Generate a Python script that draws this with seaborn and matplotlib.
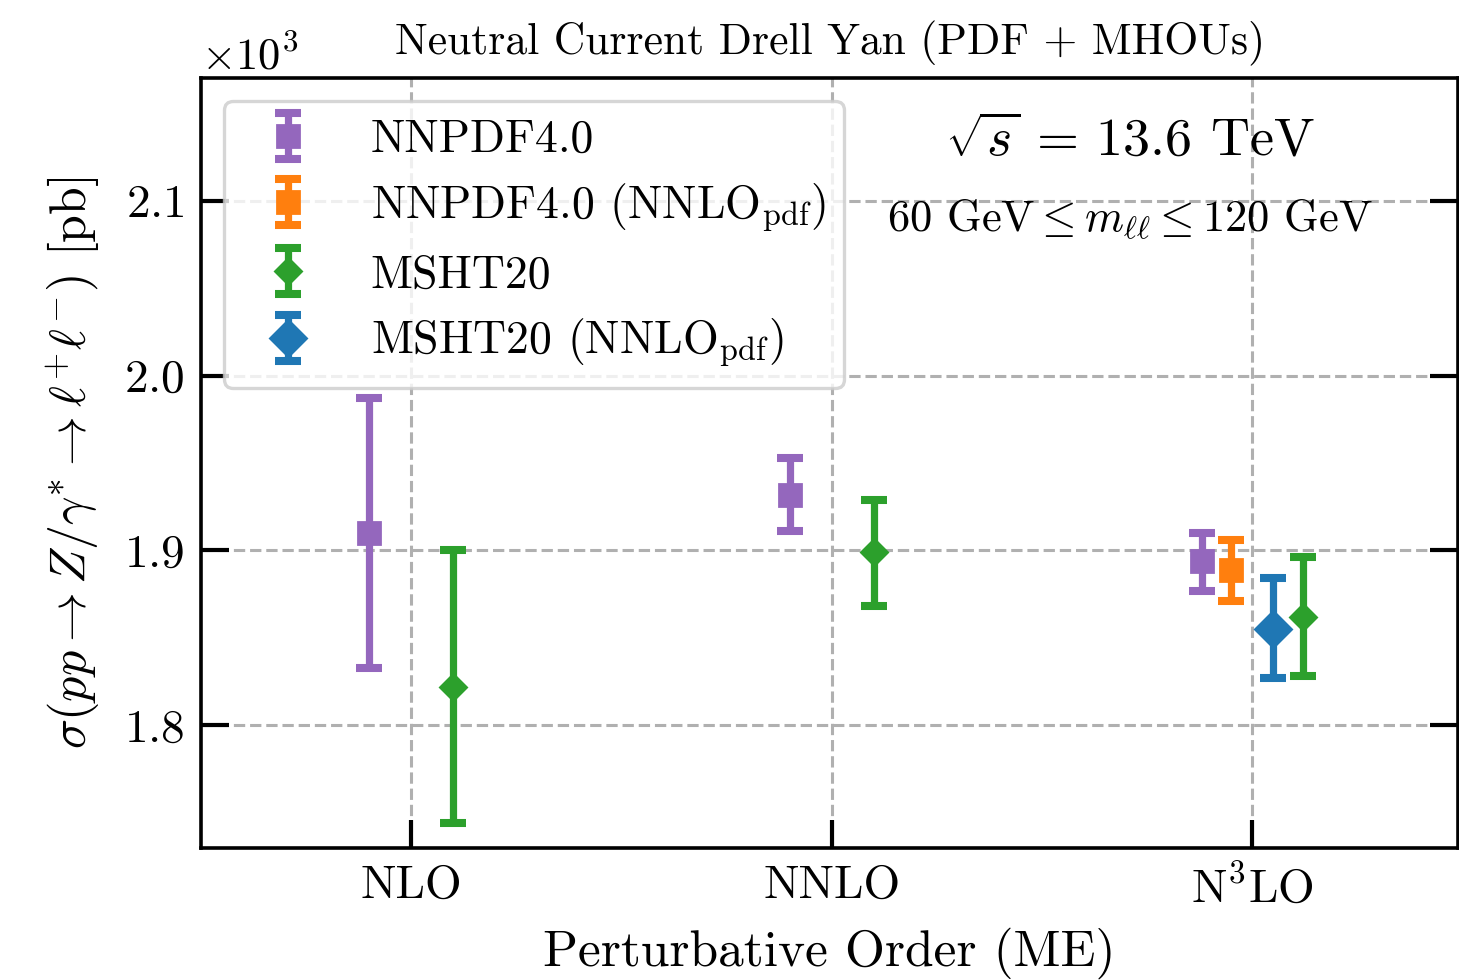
import numpy as np
import matplotlib
matplotlib.use("Agg")
import matplotlib.pyplot as plt
import seaborn as sns

# ---------------- data (pb) ----------------
orders = ["NLO", "NNLO", r"N$^3$LO"]

nnpdf_order = [0, 1, 2]
nnpdf_c = [1910, 1932, 1894]
nnpdf_lo = [1833, 1911, 1877]
nnpdf_hi = [1987, 1953, 1910]

nnpdf_nn_order = [2]
nnpdf_nn_c = [1889]
nnpdf_nn_lo = [1871]
nnpdf_nn_hi = [1906]

msht_order = [0, 1, 2]
msht_c = [1822, 1899, 1862]
msht_lo = [1744, 1868, 1828]
msht_hi = [1900, 1929, 1896]

msht_nn_order = [2]
msht_nn_c = [1855]
msht_nn_lo = [1827]
msht_nn_hi = [1884]

labels = ["NNPDF4.0", r"NNPDF4.0 (NNLO$_{\rm pdf}$)", "MSHT20", r"MSHT20 (NNLO$_{\rm pdf}$)"]

# ---------------- style ----------------
sns.set_style("ticks")
plt.rcParams.update({
    "font.family": ["cmr10"],
    "mathtext.fontset": "cm",
    "axes.formatter.use_mathtext": True,
    "axes.unicode_minus": False,
    "axes.edgecolor": "black",
    "xtick.color": "black",
    "ytick.color": "black",
    "text.color": "black",
    "axes.labelcolor": "black",
})

# horizontal offsets within each order group (layout)
off_nnpdf = [-0.1, -0.1, -0.12]
off_nnpdf_nn = [-0.05]
off_msht = [0.1, 0.1, 0.12]
off_msht_nn = [0.05]

series = [
    (nnpdf_order, off_nnpdf, nnpdf_c, nnpdf_lo, nnpdf_hi, "#9467bd", "s", 7.8, labels[0]),
    (nnpdf_nn_order, off_nnpdf_nn, nnpdf_nn_c, nnpdf_nn_lo, nnpdf_nn_hi, "#ff7f0e", "s", 7.8, labels[1]),
    (msht_order, off_msht, msht_c, msht_lo, msht_hi, "#2ca02c", "D", 6.8, labels[2]),
    (msht_nn_order, off_msht_nn, msht_nn_c, msht_nn_lo, msht_nn_hi, "#1f77b4", "D", 9.0, labels[3]),
]

fig = plt.figure(figsize=(7.295, 4.9), dpi=200)
ax = fig.add_axes([0.1378, 0.1347, 0.8616, 0.7857])

for order, off, c, lo, hi, col, mk, ms, lab in series:
    x = np.array(order) + np.array(off)
    c = np.array(c, float); lo = np.array(lo, float); hi = np.array(hi, float)
    ax.errorbar(x, c, yerr=[c - lo, hi - c], fmt=mk, color=col, ms=ms,
                elinewidth=2.6, capsize=4.8, capthick=2.9, label=lab, zorder=3)

ax.set_xlim(-0.5, 2.49)
ax.set_ylim(1730, 2170)
ax.set_xticks(range(len(orders)))
ax.set_xticklabels(orders)
ax.set_yticks([1800, 1900, 2000, 2100])
ax.ticklabel_format(axis="y", style="sci", scilimits=(3, 3), useMathText=True)
ax.yaxis.get_offset_text().set_fontsize(16)

ax.grid(True, linestyle="--", color="#b0b0b0", linewidth=1.1)
ax.set_axisbelow(True)

ax.tick_params(axis="both", which="major", direction="in", length=10, width=1.5,
               labelsize=17, pad=6, colors="black")
ax.tick_params(axis="y", right=True, left=True)
ax.tick_params(axis="x", top=False, bottom=True)
for s in ax.spines.values():
    s.set_linewidth(1.3)
    s.set_color("black")
    s.set_visible(True)

ax.set_xlabel("Perturbative Order (ME)", fontsize=18.5, labelpad=6)
ax.set_ylabel(r"$\sigma(pp \to Z/\gamma^{*} \to \ell^{+}\ell^{-})$ [pb]", fontsize=18, labelpad=8)
ax.set_title("Neutral Current Drell Yan (PDF + MHOUs)", fontsize=15.7, pad=8.5)

ax.text(0.739, 0.918, r"$\sqrt{s}\, =\, 13.6$ TeV", transform=ax.transAxes,
        ha="center", va="center", fontsize=19.5)
ax.text(0.739, 0.816, r"60 GeV$\leq m_{\ell\ell}\leq$120 GeV", transform=ax.transAxes,
        ha="center", va="center", fontsize=16)

leg = ax.legend(loc="upper left", fontsize=16.5, framealpha=0.8, fancybox=True,
                borderaxespad=0.5, labelspacing=0.45)
leg.get_frame().set_edgecolor("#cccccc")
leg.get_frame().set_linewidth(1.2)

fig.savefig("out.png", dpi=200)
